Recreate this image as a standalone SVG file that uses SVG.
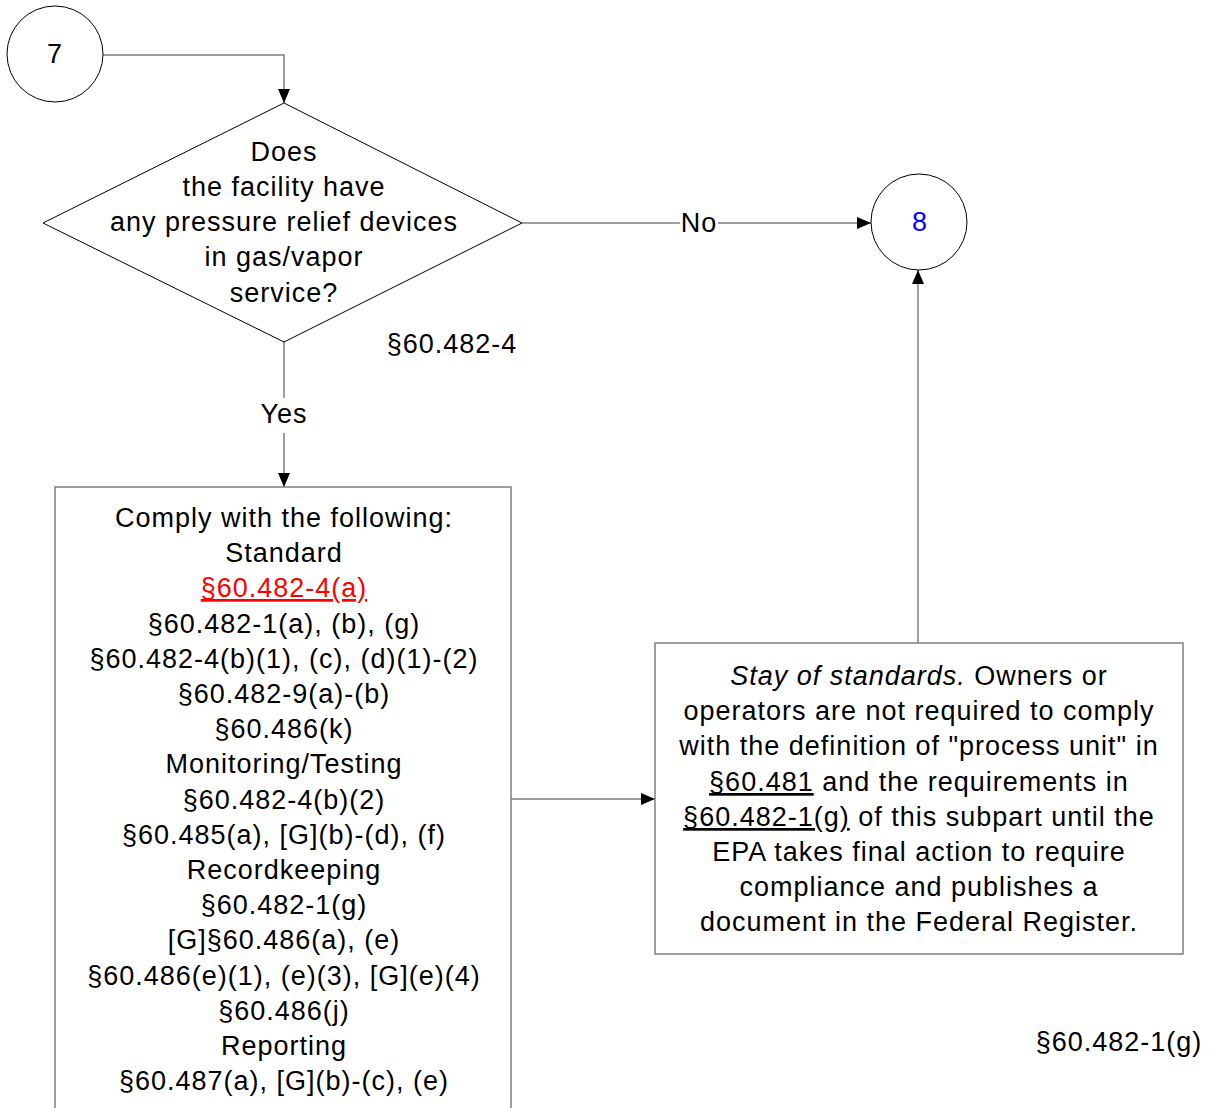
<svg xmlns="http://www.w3.org/2000/svg" width="1213" height="1108" viewBox="0 0 1213 1108">
<style>
text{font-family:"Liberation Sans",Arial,sans-serif;font-size:27px;fill:#000;letter-spacing:1px}
.c{text-anchor:middle}
.shape{fill:#fff;stroke:#000;stroke-width:1}
.box{fill:#fff;stroke:#7f7f7f;stroke-width:1.5}
.conn{fill:none;stroke:#7f7f7f;stroke-width:1.5}
.red{fill:#ff0000;text-decoration:underline}
.u{text-decoration:underline}
.blue{fill:#0000ff}
</style>
<defs>
<marker id="arr" viewBox="0 0 14 12" refX="14" refY="6" markerWidth="14" markerHeight="12" markerUnits="userSpaceOnUse" orient="auto">
<path d="M0,0 L14,6 L0,12 z" fill="#000"/>
</marker>
</defs>
<g id="connectors">
<path class="conn" d="M102,55 H284 V103" marker-end="url(#arr)"/>
<path class="conn" d="M522,223 H680"/>
<path class="conn" d="M718,223 H871" marker-end="url(#arr)"/>
<path class="conn" d="M284,342 V398"/>
<path class="conn" d="M284,433 V487" marker-end="url(#arr)"/>
<path class="conn" d="M511,799 H655" marker-end="url(#arr)"/>
<path class="conn" d="M918,643 V270" marker-end="url(#arr)"/>
<text x="699" y="232" class="c">No</text>
<text x="284" y="423" class="c">Yes</text>
</g>
<g id="node7">
<circle class="shape" cx="55" cy="54" r="48"/>
<text x="55" y="63" class="c">7</text>
</g>
<g id="decision">
<polygon class="shape" points="284,103 522,223 284,342 43,223" stroke="#333"/>
<text x="284" y="161" class="c">Does</text>
<text x="284" y="196" class="c">the facility have</text>
<text x="284" y="231" class="c">any pressure relief devices</text>
<text x="284" y="266" class="c">in gas/vapor</text>
<text x="284" y="302" class="c">service?</text>
<text x="452" y="353" class="c">§60.482-4</text>
</g>
<g id="node8">
<circle class="shape" cx="919" cy="222" r="48"/>
<text x="920" y="231" class="c blue">8</text>
</g>
<g id="comply">
<rect class="box" x="55" y="487" width="456" height="640"/>
<text x="284" y="527" class="c">Comply with the following:</text>
<text x="284" y="562" class="c">Standard</text>
<text x="284" y="597" class="c red">§60.482-4(a)</text>
<text x="284" y="633" class="c">§60.482-1(a), (b), (g)</text>
<text x="284" y="668" class="c">§60.482-4(b)(1), (c), (d)(1)-(2)</text>
<text x="284" y="703" class="c">§60.482-9(a)-(b)</text>
<text x="284" y="738" class="c">§60.486(k)</text>
<text x="284" y="773" class="c">Monitoring/Testing</text>
<text x="284" y="809" class="c">§60.482-4(b)(2)</text>
<text x="284" y="844" class="c">§60.485(a), [G](b)-(d), (f)</text>
<text x="284" y="879" class="c">Recordkeeping</text>
<text x="284" y="914" class="c">§60.482-1(g)</text>
<text x="284" y="949" class="c">[G]§60.486(a), (e)</text>
<text x="284" y="985" class="c">§60.486(e)(1), (e)(3), [G](e)(4)</text>
<text x="284" y="1020" class="c">§60.486(j)</text>
<text x="284" y="1055" class="c">Reporting</text>
<text x="284" y="1090" class="c">§60.487(a), [G](b)-(c), (e)</text>
</g>
<g id="stay">
<rect class="box" x="655" y="643" width="528" height="311"/>
<text x="919" y="685" class="c"><tspan font-style="italic">Stay of standards.</tspan> Owners or</text>
<text x="919" y="720" class="c">operators are not required to comply</text>
<text x="919" y="755" class="c">with the definition of "process unit" in</text>
<text x="919" y="791" class="c"><tspan class="u">§60.481</tspan> and the requirements in</text>
<text x="919" y="826" class="c"><tspan class="u">§60.482-1(g)</tspan> of this subpart until the</text>
<text x="919" y="861" class="c">EPA takes final action to require</text>
<text x="919" y="896" class="c">compliance and publishes a</text>
<text x="919" y="931" class="c">document in the Federal Register.</text>
<text x="1119" y="1051" class="c">§60.482-1(g)</text>
</g>
</svg>
